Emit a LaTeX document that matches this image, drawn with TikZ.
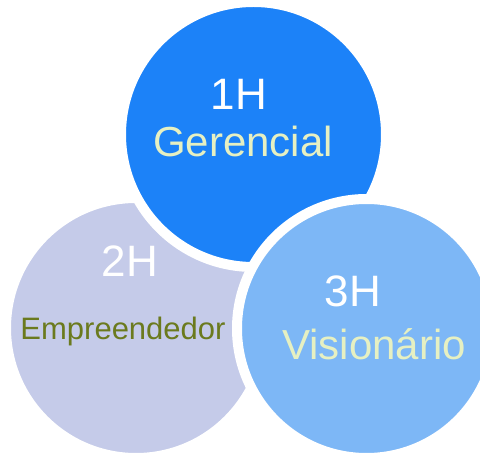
\documentclass[tikz,border=0pt]{standalone}
\usepackage{fontspec}
\setmainfont{Liberation Sans}
\definecolor{topblue}{HTML}{1C82F8}
\definecolor{lavender}{HTML}{C5CBE9}
\definecolor{lightblue}{HTML}{7DB7F6}
\definecolor{paleyellow}{HTML}{E6F0C2}
\definecolor{olive}{HTML}{6B7A1E}
\begin{document}
\begin{tikzpicture}[x=1pt,y=-1pt,
  bubble/.style={circle,draw=white,line width=10pt,inner sep=0pt},
  big/.style={anchor=base,inner sep=0pt,text=white,font=\fontsize{44}{44}\selectfont},
  word/.style={anchor=base,inner sep=0pt,font=\fontsize{42}{42}\selectfont}]
\useasboundingbox (0,0) rectangle (480,454);
\clip (0,0) rectangle (480,454);
\node[bubble,fill=lavender,minimum size=260pt] (c2) at (136,328) {};
\node[bubble,fill=topblue,minimum size=265pt] (c1) at (253.5,134.5) {};
\node[bubble,fill=lightblue,minimum size=259pt] (c3) at (366.5,328.5) {};
\node[big] (t1) at (239,110) {1H};
\node[word,text=paleyellow] (w1) at (243,157) {Gerencial};
\node[big] (t2) at (130,277) {2H};
\node[anchor=base,inner sep=0pt,text=olive,font=\fontsize{31}{31}\selectfont] (w2) at (123,340) {Empreendedor};
\node[big] (t3) at (353,307) {3H};
\node[word,text=paleyellow] (w3) at (374,360) {Visionário};
\end{tikzpicture}
\end{document}
